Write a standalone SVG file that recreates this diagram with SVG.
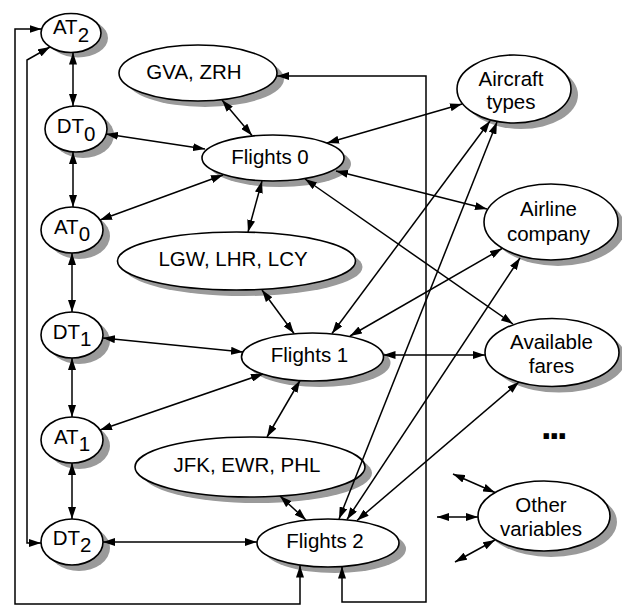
<svg xmlns="http://www.w3.org/2000/svg" width="622" height="606" viewBox="0 0 622 606">
  <style>
    .shadow { fill: #9a9a9a; stroke: none; }
    .node { fill: #ffffff; stroke: #000000; stroke-width: 1.6; }
    .lbl { font-family: "Liberation Sans", Arial, sans-serif; font-size: 20.5px; fill: #000000; text-anchor: middle; }
    .dots { font-family: "Liberation Sans", Arial, sans-serif; font-size: 38px; font-weight: bold; letter-spacing: -2.5px; fill: #000000; text-anchor: middle; }
    .edge { fill: none; stroke: #000000; stroke-width: 1.5; marker-start: url(#arr); marker-end: url(#arr); }
  </style>
  <defs>
    <marker id="arr" markerUnits="userSpaceOnUse" markerWidth="12" markerHeight="8" refX="12" refY="4" orient="auto-start-reverse" viewBox="0 0 12 8">
      <path d="M0,0 L12,4 L0,8 Z" fill="#000000"/>
    </marker>
  </defs>
  <rect width="622" height="606" fill="#ffffff"/>

  <!-- time variables on the left -->
  <g id="AT2">
    <ellipse class="shadow" cx="78" cy="38" rx="30" ry="19.5"/>
    <ellipse class="node" cx="71" cy="33" rx="30" ry="19.5"/>
    <text class="lbl" x="71" y="34">AT<tspan dy="7.5">2</tspan></text>
  </g>
  <g id="DT0">
    <ellipse class="shadow" cx="83" cy="135" rx="31" ry="23"/>
    <ellipse class="node" cx="76" cy="129" rx="31" ry="23"/>
    <text class="lbl" x="76" y="132.5">DT<tspan dy="8">0</tspan></text>
  </g>
  <g id="AT0">
    <ellipse class="shadow" cx="79" cy="236" rx="31" ry="23"/>
    <ellipse class="node" cx="72" cy="230" rx="31" ry="23"/>
    <text class="lbl" x="72" y="233.5">AT<tspan dy="7.5">0</tspan></text>
  </g>
  <g id="DT1">
    <ellipse class="shadow" cx="79" cy="341" rx="31" ry="23"/>
    <ellipse class="node" cx="72" cy="335" rx="31" ry="23"/>
    <text class="lbl" x="72" y="338.5">DT<tspan dy="7">1</tspan></text>
  </g>
  <g id="AT1">
    <ellipse class="shadow" cx="79" cy="446" rx="31" ry="23"/>
    <ellipse class="node" cx="72" cy="440" rx="31" ry="23"/>
    <text class="lbl" x="72" y="443.5">AT<tspan dy="7">1</tspan></text>
  </g>
  <g id="DT2">
    <ellipse class="shadow" cx="79" cy="548" rx="31" ry="23"/>
    <ellipse class="node" cx="72" cy="542" rx="31" ry="23"/>
    <text class="lbl" x="72" y="545">DT<tspan dy="7">2</tspan></text>
  </g>

  <!-- airports and flights -->
  <g id="GVA_ZRH">
    <ellipse class="shadow" cx="205" cy="79" rx="79" ry="28"/>
    <ellipse class="node" cx="198" cy="73" rx="79" ry="28"/>
    <text class="lbl" x="194" y="79">GVA, ZRH</text>
  </g>
  <g id="Flights0">
    <ellipse class="shadow" cx="280" cy="164" rx="71" ry="23"/>
    <ellipse class="node" cx="273" cy="158" rx="71" ry="23"/>
    <text class="lbl" x="270" y="163.5">Flights 0</text>
  </g>
  <g id="LGW_LHR_LCY">
    <ellipse class="shadow" cx="243.5" cy="267" rx="119" ry="29"/>
    <ellipse class="node" cx="236.5" cy="261" rx="119" ry="29"/>
    <text class="lbl" x="233" y="266">LGW, LHR, LCY</text>
  </g>
  <g id="Flights1">
    <ellipse class="shadow" cx="319.5" cy="363" rx="71" ry="24"/>
    <ellipse class="node" cx="312.5" cy="357" rx="71" ry="24"/>
    <text class="lbl" x="309.5" y="362">Flights 1</text>
  </g>
  <g id="JFK_EWR_PHL">
    <ellipse class="shadow" cx="257" cy="473" rx="115" ry="30"/>
    <ellipse class="node" cx="250" cy="467" rx="115" ry="30"/>
    <text class="lbl" x="247" y="472">JFK, EWR, PHL</text>
  </g>
  <g id="Flights2">
    <ellipse class="shadow" cx="335" cy="549" rx="71" ry="24"/>
    <ellipse class="node" cx="328" cy="543" rx="71" ry="24"/>
    <text class="lbl" x="325" y="548">Flights 2</text>
  </g>

  <!-- shared variables on the right -->
  <g id="AircraftTypes">
    <ellipse class="shadow" cx="521" cy="95" rx="57" ry="34"/>
    <ellipse class="node" cx="514" cy="89" rx="57" ry="34"/>
    <text class="lbl" x="511" y="85.5">Aircraft</text>
    <text class="lbl" x="511" y="109">types</text>
  </g>
  <g id="AirlineCompany">
    <ellipse class="shadow" cx="558" cy="228" rx="67" ry="38"/>
    <ellipse class="node" cx="551" cy="222" rx="67" ry="38"/>
    <text class="lbl" x="548.5" y="215.5">Airline</text>
    <text class="lbl" x="548.5" y="240.5">company</text>
  </g>
  <g id="AvailableFares">
    <ellipse class="shadow" cx="559" cy="358.5" rx="67" ry="34"/>
    <ellipse class="node" cx="552" cy="352.5" rx="67" ry="34"/>
    <text class="lbl" x="551.5" y="348.5">Available</text>
    <text class="lbl" x="551.5" y="372.5">fares</text>
  </g>
  <g id="OtherVariables">
    <ellipse class="shadow" cx="551" cy="522" rx="66" ry="35"/>
    <ellipse class="node" cx="544" cy="516" rx="66" ry="35"/>
    <text class="lbl" x="541" y="511.5">Other</text>
    <text class="lbl" x="541" y="536">variables</text>
  </g>
  <g id="Ellipsis">
    <text class="dots" x="553" y="439">...</text>
  </g>

  <!-- connectors -->
  <g id="connectors">
    <path class="edge" d="M73,52.5 L73,106"/>
    <path class="edge" d="M73,152 L73,207"/>
    <path class="edge" d="M72,253 L72,312"/>
    <path class="edge" d="M72,358 L72,417"/>
    <path class="edge" d="M72,463 L72,519"/>
    <path class="edge" d="M103,542 L257,542"/>
    <path class="edge" d="M106,134 L205,149"/>
    <path class="edge" d="M100,220 L223,175"/>
    <path class="edge" d="M222,100 L252,135.5"/>
    <path class="edge" d="M262,181 L248,232"/>
    <path class="edge" d="M262,290 L294,333.5"/>
    <path class="edge" d="M103,338 L243,352"/>
    <path class="edge" d="M100,430 L263,374"/>
    <path class="edge" d="M300,380.5 L267,437"/>
    <path class="edge" d="M280,496 L306,520"/>
    <path class="edge" d="M327,143 L462,104"/>
    <path class="edge" d="M336,171 L487,209"/>
    <path class="edge" d="M305,179 L513,324"/>
    <path class="edge" d="M332,333.5 L490,121"/>
    <path class="edge" d="M339,519 L497,122"/>
    <path class="edge" d="M350,336 L502,248.5"/>
    <path class="edge" d="M347,519.5 L520,258"/>
    <path class="edge" d="M357,520.5 L519,382"/>
    <path class="edge" d="M383.5,355 L485,355"/>
    <path class="edge" d="M277,76 L426,76 L426,602 L342,602 L342,566.5"/>
    <path class="edge" d="M41.5,29 L15,29 L15,604 L300,604 L300,565.5"/>
    <path class="edge" d="M41,543 L27,543 L27,60 L50,47"/>
    <path class="edge" d="M453,474 L495,492.5"/>
    <path class="edge" d="M437,517 L478,517"/>
    <path class="edge" d="M455,562 L495,540"/>
  </g>
</svg>
